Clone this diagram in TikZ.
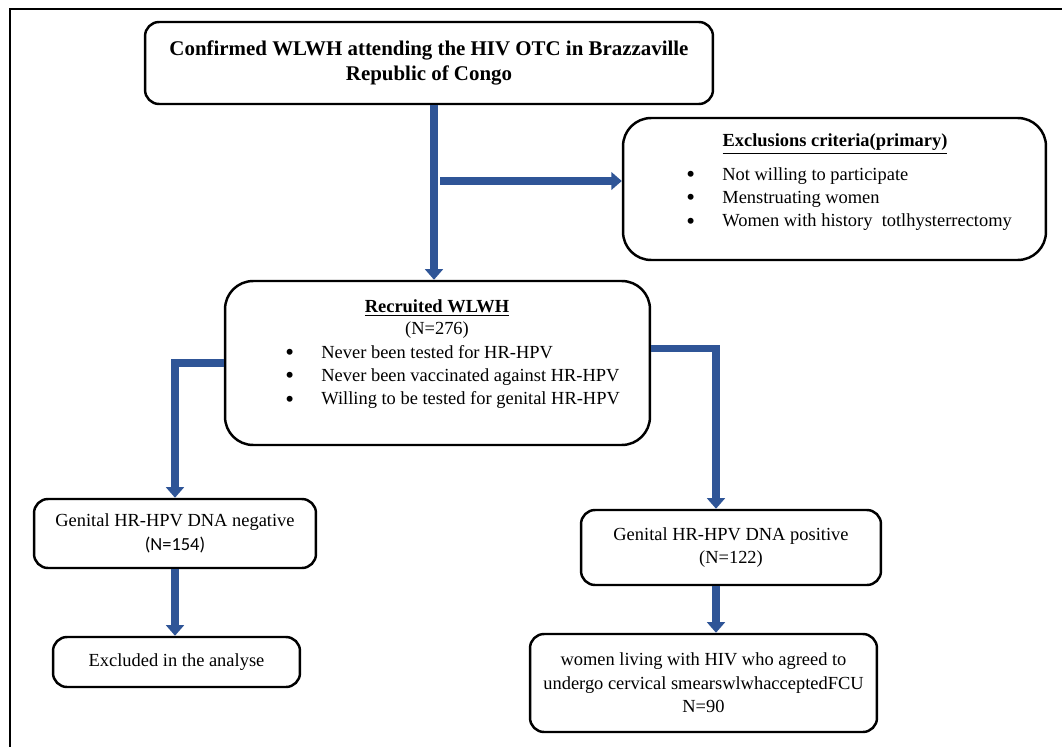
\documentclass[tikz,border=0pt]{standalone}
\usepackage{fontspec}
\setmainfont{Liberation Serif}
\newfontfamily\calfont{Carlito}
\usetikzlibrary{arrows.meta,positioning}
\definecolor{arrowblue}{RGB}{47,85,151}
\tikzset{
  box/.style={draw, line width=1.4pt, rounded corners=8pt, inner sep=0pt, align=center,
    font=\fontsize{10.5}{13.3}\selectfont},
  txt/.style={inner sep=0pt, font=\fontsize{10.5}{13.3}\selectfont},
  flow/.style={draw=arrowblue, line width=4pt, -{Triangle[width=10pt,length=6pt]}},
}
\newcommand{\bul}[1]{\makebox[0.72cm][l]{\smash{\raisebox{-1.3pt}{\scalebox{1.35}{\textbullet}}}}#1}
\begin{document}
\begin{tikzpicture}[x=0.02cm,y=-0.02cm]
\useasboundingbox (0,0) rectangle (1062,747);
% outer frame
\draw[line width=1.7pt] (10,747)--(10,9)--(1062,9);
% boxes
\node[box, minimum width=11.36cm, minimum height=1.64cm,
  font=\fontsize{11.9}{14.2}\selectfont\bfseries] (conf) at (429,63)
  {Confirmed WLWH attending the HIV OTC in Brazzaville\\Republic of Congo};
\node[box, rounded corners=16pt, minimum width=8.46cm, minimum height=2.84cm] (excl) at (834.5,189) {};
\node[txt, font=\fontsize{10.5}{13.3}\selectfont\bfseries] (exhead) at (835,144) {\underline{Exclusions criteria(primary)}};
\node[txt, anchor=west, align=left] (exlist) at (686,199)
  {\bul{Not willing to participate}\\\bul{Menstruating women}\\\bul{Women with history\ \ totlhysterrectomy}};
\node[box, rounded corners=16pt, minimum width=8.5cm, minimum height=3.28cm] (rec) at (437.5,363) {};
\node[txt, font=\fontsize{10.5}{13.3}\selectfont\bfseries] (rechead) at (437,308) {\underline{Recruited WLWH}};
\node[txt] (recn) at (437,330) {(N=276)};
\node[txt, anchor=west, align=left] (reclist) at (285,377)
  {\bul{Never been tested for HR-HPV}\\\bul{Never been vaccinated against HR-HPV}\\\bul{Willing to be tested for genital HR-HPV}};
\node[box, minimum width=5.64cm, minimum height=1.38cm] (neg) at (175,533.5)
  {Genital HR-HPV DNA negative\\{\calfont(N=154)}};
\node[box, minimum width=6cm, minimum height=1.5cm] (pos) at (731,547.5)
  {Genital HR-HPV DNA positive\\(N=122)};
\node[box, minimum width=4.94cm, minimum height=1cm] (anal) at (176.5,662)
  {Excluded in the analyse};
\node[box, minimum width=6.94cm, minimum height=1.96cm] (wom) at (703.5,683)
  {women living with HIV who agreed to\\undergo cervical smearswlwhacceptedFCU\\N=90};
% arrows
\draw[flow] ([xshift=0.1cm]conf.south) -- ([xshift=0.1cm]conf.south |- rec.north);
\coordinate (split) at (440,181);
\draw[flow] (split) -- (split -| excl.west);
\draw[flow] (rec.west) -| (neg.north);
\draw[flow] ([yshift=8.5pt]rec.east) -| ([xshift=-0.3cm]pos.north);
\draw[flow] (neg.south) -- (neg.south |- anal.north);
\draw[flow] ([xshift=-0.3cm]pos.south) -- ([xshift=-0.3cm]pos.south |- wom.north);
\end{tikzpicture}
\end{document}
